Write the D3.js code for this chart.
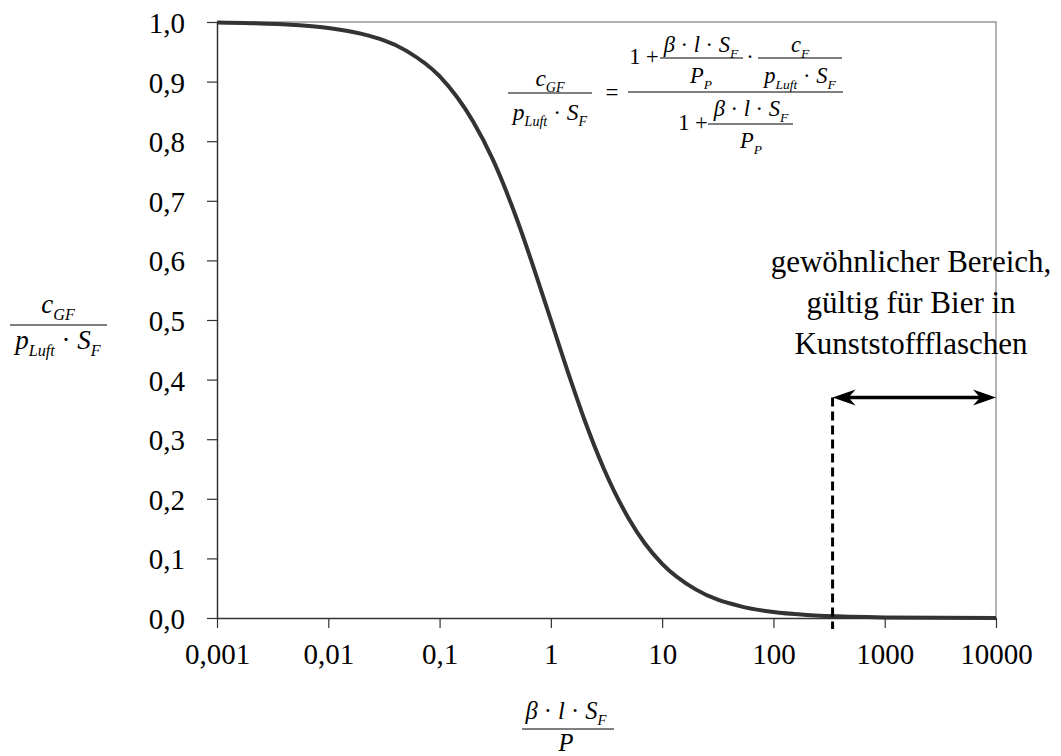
<!DOCTYPE html>
<html>
<head>
<meta charset="utf-8">
<script src="https://cdn.jsdelivr.net/npm/d3@7"></script>
<style>
  body { margin: 0; background: #fff; }
  svg { display: block; font-family: "Liberation Serif", "Times New Roman", serif; }
</style>
</head>
<body>
<svg width="1061" height="756"></svg>
<script>
// curve (x = beta*l*S_F/P, y = c_GF/(p_Luft*S_F))
let curveX = [0.001, 0.002, 0.005, 0.01, 0.02, 0.05, 0.1, 0.2, 0.3, 0.5, 0.7, 1, 1.5, 2, 3, 5, 7, 10, 20, 50, 100, 200, 500, 1000, 10000];
let curveY = [0.999, 0.998, 0.995, 0.99, 0.98, 0.952, 0.909, 0.833, 0.77, 0.667, 0.588, 0.5, 0.4, 0.333, 0.25, 0.167, 0.125, 0.091, 0.048, 0.02, 0.0099, 0.005, 0.002, 0.001, 0.0001];

let xTicks = [0.001, 0.01, 0.1, 1, 10, 100, 1000, 10000];
let xTickLabels = ['0,001', '0,01', '0,1', '1', '10', '100', '1000', '10000'];
let yTicks = [0, 0.1, 0.2, 0.3, 0.4, 0.5, 0.6, 0.7, 0.8, 0.9, 1.0];

// usual range marker
let rangeStart = 340;
let rangeEnd = 10000;
let rangeLevel = 0.37;
let rangeText = ['gewöhnlicher Bereich,', 'gültig für Bier in', 'Kunststoffflaschen'];

let svg = d3.select('svg');
let margin = {left: 217, top: 22, right: 65, bottom: 138};
let width = 1061 - margin.left - margin.right;
let height = 756 - margin.top - margin.bottom;

let x = d3.scaleLog().domain([0.001, 10000]).range([0, width]);
let y = d3.scaleLinear().domain([0, 1]).range([height, 0]);

let g = svg.append('g').attr('transform', `translate(${margin.left},${margin.top})`);

// top and right frame
g.append('path')
  .attr('d', `M0,0H${width}V${height}`)
  .attr('fill', 'none')
  .attr('stroke', '#999')
  .attr('stroke-width', 1.5);

let xAxis = g.append('g')
  .attr('transform', `translate(0,${height})`)
  .call(d3.axisBottom(x).tickValues(xTicks).tickSizeInner(10).tickSizeOuter(0)
    .tickPadding(15).tickFormat((d, i) => xTickLabels[i]));

let yAxis = g.append('g')
  .call(d3.axisLeft(y).tickValues(yTicks).tickSizeInner(10).tickSizeOuter(0)
    .tickPadding(22).tickFormat(d => d3.format('.1f')(d).replace('.', ',')));

[xAxis, yAxis].forEach(a => {
  a.select('.domain').attr('stroke', '#333').attr('stroke-width', 1.5);
  a.selectAll('.tick line').attr('stroke', '#333').attr('stroke-width', 1.2);
  a.selectAll('.tick text')
    .attr('font-family', '"Liberation Serif", serif')
    .attr('font-size', 29)
    .attr('fill', '#000');
});
yAxis.selectAll('.tick text').attr('dy', '0.36em');

let line = d3.line()
  .curve(d3.curveMonotoneX)
  .x((d, i) => x(curveX[i]))
  .y((d, i) => y(curveY[i]));

g.append('path')
  .attr('d', line(curveX))
  .attr('fill', 'none')
  .attr('stroke', '#333')
  .attr('stroke-width', 4);

// dashed boundary line
g.append('line')
  .attr('x1', x(rangeStart)).attr('x2', x(rangeStart))
  .attr('y1', y(rangeLevel)).attr('y2', height + 11)
  .attr('stroke', '#000')
  .attr('stroke-width', 3)
  .attr('stroke-dasharray', '9,5');

// double arrow
let ay = y(rangeLevel);
let ax1 = x(rangeStart), ax2 = x(rangeEnd);
g.append('line')
  .attr('x1', ax1 + 10).attr('x2', ax2 - 10)
  .attr('y1', ay).attr('y2', ay)
  .attr('stroke', '#000')
  .attr('stroke-width', 3.5);
function head(tip, dir) {
  return `M${tip},${ay}L${tip + dir * 23},${ay - 8}L${tip + dir * 16},${ay}L${tip + dir * 23},${ay + 8}Z`;
}
g.append('path').attr('d', head(ax1, 1)).attr('fill', '#000');
g.append('path').attr('d', head(ax2, -1)).attr('fill', '#000');

g.append('text')
  .attr('text-anchor', 'middle')
  .attr('font-size', 31)
  .selectAll('tspan')
  .data(rangeText)
  .enter().append('tspan')
  .attr('x', 694)
  .attr('y', (d, i) => 250 + i * 41)
  .text(d => d);

// formula helpers
function mtext(sel, px, py, parts, size, anchor) {
  let t = sel.append('text')
    .attr('x', px).attr('y', py)
    .attr('text-anchor', anchor || 'middle')
    .attr('font-size', size);
  let shift = 0;
  parts.forEach(p => {
    t.append('tspan')
      .attr('font-style', p.up ? 'normal' : 'italic')
      .attr('dy', -shift)
      .text(p.t);
    shift = 0;
    if (p.sub) {
      t.append('tspan')
        .attr('font-style', 'italic')
        .attr('font-size', size * 0.6)
        .attr('dy', size * 0.25)
        .text(p.sub);
      shift = size * 0.25;
    }
  });
  return t;
}
function hline(sel, x1, x2, yy) {
  sel.append('line')
    .attr('x1', x1).attr('x2', x2).attr('y1', yy).attr('y2', yy)
    .attr('stroke', '#000').attr('stroke-width', 1.2);
}

let cGF = [{t: 'c', sub: 'GF'}];
let pLuftSF = [{t: 'p', sub: 'Luft'}, {t: ' · ', up: true}, {t: 'S', sub: 'F'}];
let blS = [{t: 'β'}, {t: ' · ', up: true}, {t: 'l'}, {t: ' · ', up: true}, {t: 'S', sub: 'F'}];
let PP = [{t: 'P', sub: 'P'}];

// y-axis title
mtext(svg, 58, 313, cGF, 27);
hline(svg, 10, 107, 325);
mtext(svg, 58, 349, pLuftSF, 27);

// x-axis title
mtext(svg, 566, 719, blS, 24.5);
hline(svg, 522, 614, 729);
mtext(svg, 566, 751, [{t: 'P'}], 24.5);

// formula in the plot
mtext(svg, 550, 86, cGF, 23.5);
hline(svg, 508, 592, 93);
mtext(svg, 550, 120, pLuftSF, 23.5);
mtext(svg, 612, 100, [{t: '=', up: true}], 23);
hline(svg, 628, 843, 92);
mtext(svg, 644, 64, [{t: '1 +', up: true}], 22.5);
mtext(svg, 701, 52, blS, 22.5);
hline(svg, 660, 743, 58);
mtext(svg, 701, 83, PP, 22.5);
mtext(svg, 750, 64, [{t: '·', up: true}], 22.5);
mtext(svg, 800, 52, [{t: 'c', sub: 'F'}], 22.5);
hline(svg, 758, 842, 58);
mtext(svg, 800, 83, pLuftSF, 22.5);
mtext(svg, 693, 130, [{t: '1 +', up: true}], 22.5);
mtext(svg, 751, 116, blS, 22.5);
hline(svg, 708, 793, 124);
mtext(svg, 751, 148, PP, 22.5);
</script>
</body>
</html>
